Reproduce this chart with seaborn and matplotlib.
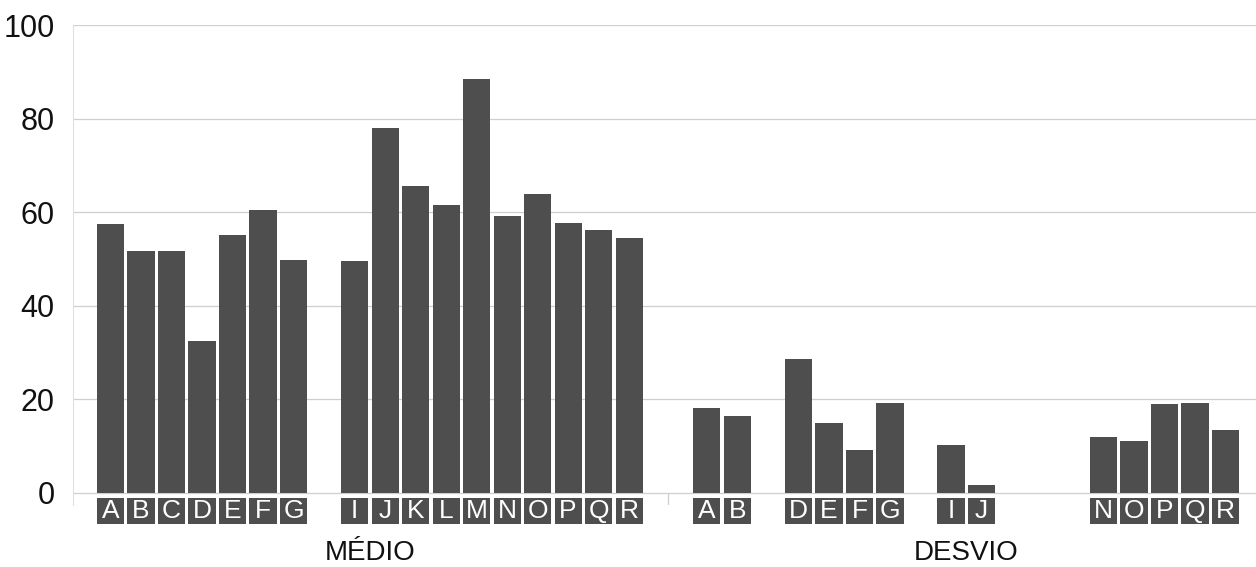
import matplotlib
matplotlib.use('Agg')
import matplotlib.pyplot as plt
import seaborn as sns
import numpy as np
import pandas as pd
from matplotlib.patches import Rectangle

# data
letters_medio = ["A", "B", "C", "D", "E", "F", "G",
                 "I", "J", "K", "L", "M", "N", "O", "P", "Q", "R"]
values_medio = [57.4, 51.8, 51.8, 32.5, 55.1, 60.5, 49.8,
                49.5, 78.1, 65.6, 61.5, 88.5, 59.3, 63.8, 57.7, 56.3, 54.5]

letters_desvio = ["A", "B", "D", "E", "F", "G", "I", "J",
                  "N", "O", "P", "Q", "R"]
values_desvio = [18.2, 16.4, 28.6, 14.9, 9.1, 19.1, 10.1, 1.7,
                 11.9, 11.1, 18.9, 19.1, 13.3]

groups = ["MÉDIO", "DESVIO"]
alphabet = "ABCDEFGHIJKLMNOPQR"
group_offset = 19.55  # slot offset of second group
bar_w = 0.89
bar_color = "#4e4e4e"
grid_color = "#cfcfcf"

rows = []
for g, (lets, vals) in enumerate([(letters_medio, values_medio),
                                  (letters_desvio, values_desvio)]):
    for l, v in zip(lets, vals):
        rows.append({"grupo": groups[g], "letra": l, "valor": v,
                     "pos": alphabet.index(l) + g * group_offset})
df = pd.DataFrame(rows)

sns.set_style("white")
plt.rcParams['font.family'] = ['Liberation Sans', 'DejaVu Sans']

fig = plt.figure(figsize=(12.56, 5.67), dpi=100)
ax = fig.add_axes([0.0579, 0.1093, 0.9421, 0.8461])

sns.barplot(data=df, x="pos", y="valor", native_scale=True, width=bar_w,
            color=bar_color, saturation=1, edgecolor="none", ax=ax)

ax.set_ylim(-2.65, 100)
ax.set_xlim(-1.24, 37.55)
ax.set_yticks([0, 20, 40, 60, 80, 100])
ax.set_yticklabels(["0", "20", "40", "60", "80", "100"], fontsize=22, color="#111111")
ax.set_xticks([])
ax.set_xlabel("")
ax.set_ylabel("")
ax.tick_params(axis="y", length=10, width=0.8, color=grid_color, pad=3)

for yv in [0, 20, 40, 60, 80, 100]:
    ax.axhline(yv, color=grid_color, lw=0.9, zorder=0)

for s in ["top", "right", "bottom"]:
    ax.spines[s].set_visible(False)
ax.spines["left"].set_color("#e0e0e0")
ax.spines["left"].set_linewidth(0.8)

# letter boxes under each bar
for _, r in df.iterrows():
    ax.add_patch(Rectangle((r["pos"] - bar_w / 2, -6.7), bar_w, 5.5,
                           facecolor=bar_color, edgecolor="none", clip_on=False))
    ax.text(r["pos"], -3.95, r["letra"], color="white", fontsize=19,
            ha="center", va="center", clip_on=False)

# separator tick between groups
sep = (alphabet.index("R") + group_offset) / 2
ax.plot([sep, sep], [0, -2.4], color=grid_color, lw=0.9, clip_on=False)

# group labels
for g, name in enumerate(groups):
    ax.text(8.5 + g * group_offset, -13.0, name, fontsize=20, color="#111111",
            ha="center", va="center", clip_on=False)

fig.savefig("out.png", dpi=100)
